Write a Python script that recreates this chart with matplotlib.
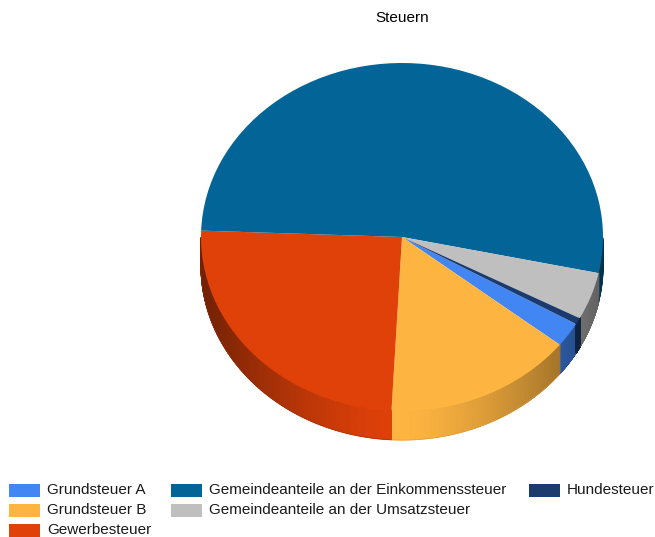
import numpy as np
import matplotlib
matplotlib.use('Agg')
import matplotlib.pyplot as plt
from matplotlib.colors import to_rgb, LinearSegmentedColormap
from matplotlib.patches import Rectangle

plt.rcParams['font.family'] = ['Liberation Sans', 'DejaVu Sans']

# Anteile in Prozent, aus dem Bild geschaetzt
labels = ['Grundsteuer A', 'Grundsteuer B', 'Gewerbesteuer',
          'Gemeindeanteile an der Einkommenssteuer',
          'Gemeindeanteile an der Umsatzsteuer', 'Hundesteuer']
values = [2.3, 15.2, 24.75, 52.75, 4.4, 0.6]
colors = ['#4286f4', '#feb441', '#e04109', '#036597', '#bfbfbf', '#1b3a6e']

W, H = 655, 537
CX, CY, RX, RY = 402, 237, 201, 174
DEPTH = 29 / RY
START = -30

fig = plt.figure(figsize=(W / 100, H / 100), dpi=100)
# Achse so legen, dass der Radius 1 genau der Ellipse im Bild entspricht
ax = fig.add_axes([(CX - RX) / W, 1 - (CY + RY + 29) / H,
                   2 * RX / W, (2 * RY + 29) / H])

# Seitenwand der Torte mit Verlauf, nur die vordere Haelfte ist sichtbar
frac = np.cumsum([0] + values) / sum(values)
for i, col in enumerate(colors):
    a0 = START - 360 * frac[i]
    a1 = START - 360 * frac[i + 1]
    ang = np.linspace(a0, a1, 300)
    ang = ang[np.sin(np.radians(ang)) <= 0]
    if len(ang) < 2:
        continue
    t = np.radians(ang)
    x = np.cos(t)
    y = np.sin(t)
    f = 1 - 0.5 * np.abs(x) ** 1.5
    rgb = np.array(to_rgb(col))
    cmap = LinearSegmentedColormap.from_list('seite', [rgb * 0.5, rgb])
    ax.pcolormesh(np.vstack([x, x]), np.vstack([y - DEPTH, y + 0.005]),
                  np.vstack([f, f]), shading='gouraud', cmap=cmap,
                  vmin=0.5, vmax=1)
    ax.plot(x, y - DEPTH, color=rgb * f.mean(), lw=0.5, alpha=0.6)

ax.pie(values, colors=colors, startangle=START, counterclock=False,
       radius=1, wedgeprops={'linewidth': 0})
ax.set_aspect('auto')
ax.set_xlim(-1, 1)
ax.set_ylim(-1 - DEPTH, 1)
ax.set_axis_off()
for c in ax.get_children():
    c.set_clip_on(False)

fig.text(402 / W, 1 - 18.5 / H, 'Steuern', ha='center', va='center',
         fontsize=11)

# Legende von Hand, die Spalten sind ungleich lang
legend_pos = [(9, 490), (9, 510), (9, 530), (171, 490), (171, 510), (529, 490)]
for lab, col, (x, y) in zip(labels, colors, legend_pos):
    fig.add_artist(Rectangle((x / W, 1 - (y + 6.5) / H), 31 / W, 13 / H,
                             transform=fig.transFigure, color=col, lw=0))
    fig.text((x + 38) / W, 1 - y / H, lab, ha='left', va='center',
             fontsize=11, color='#1a1a1a')

fig.savefig('out.png', dpi=100)
